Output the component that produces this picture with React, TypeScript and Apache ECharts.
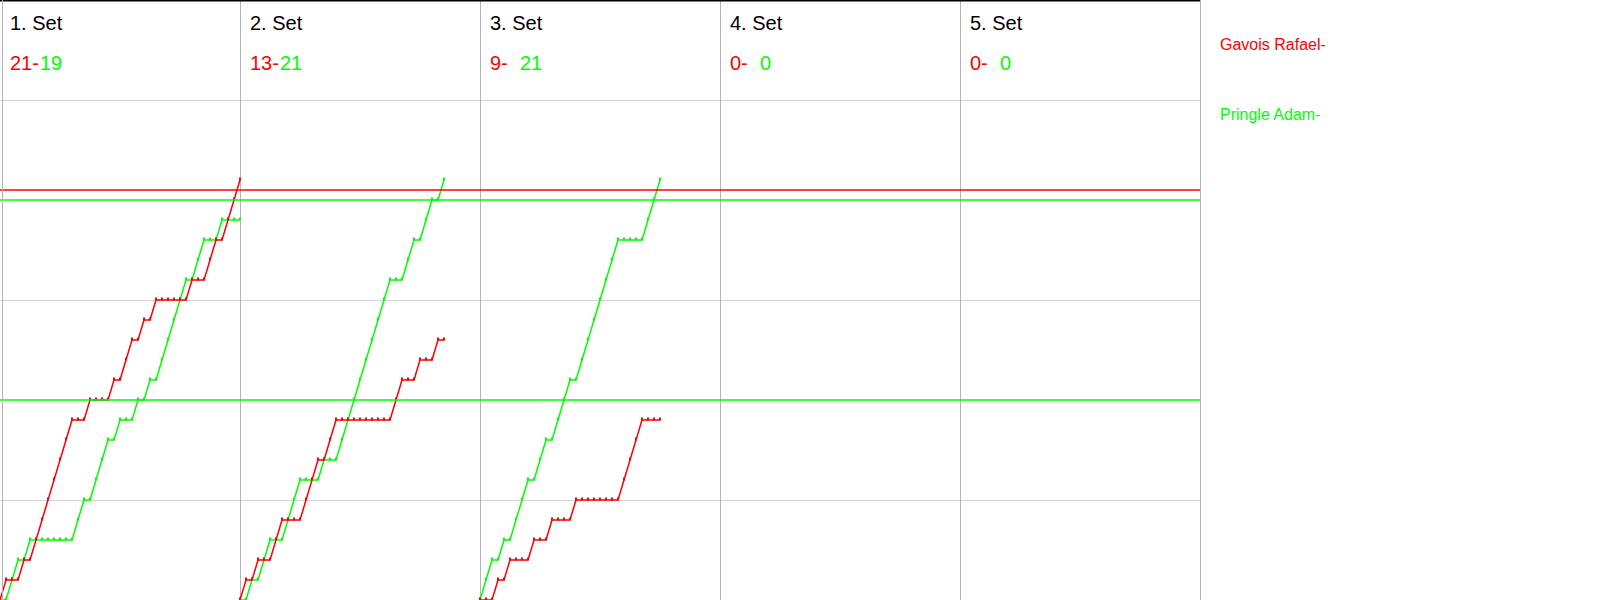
import { useEffect, useRef } from "react";
import * as echarts from "echarts";

// ---- data ----
const setLabels = ["1. Set", "2. Set", "3. Set", "4. Set", "5. Set"];
const playerNames = ["Gavois Rafael-", "Pringle Adam-"];
const redSetScores = ["21", "13", "9", "0", "0"];
const greenSetScores = ["19", "21", "21", "0", "0"];
// winner of each rally, per set (R = Gavois Rafael, G = Pringle Adam)
const set1Rallies = "RGGRGRRRRRRRGGRGGGRGRRGRGRGGGGGRGGRRGRRR".split("");
const set2Rallies = "RGRGGRRGGGRRRGRRGGGGGGGGGRRGGRGGRG".split("");
const set3Rallies = "GGRGRGGGRGGRGGGRGGGGGGGRRRRGGG".split("");
const set4Rallies: string[] = [];
const set5Rallies: string[] = [];
const redRefLines = [20.5];
const greenRefLines = [20, 10];
const ralliesPerSet = 40;
const setCount = 5;

const RED = "#ff0000";
const GREEN = "#00ff00";
const FONT = '"Liberation Sans", Arial, sans-serif';

const allSets = [set1Rallies, set2Rallies, set3Rallies, set4Rallies, set5Rallies];

function progression(rallies: string[], player: string, setIndex: number) {
  const x0 = setIndex * ralliesPerSet;
  const pts: number[][] = [[x0, 0]];
  let s = 0;
  rallies.forEach((w, i) => {
    if (w === player) s += 1;
    pts.push([x0 + i + 1, s]);
  });
  return pts;
}

function buildOption() {
  const series: any[] = [];
  allSets.forEach((rallies, k) => {
    if (!rallies.length) return;
    [
      { p: "R", color: RED, name: playerNames[0], refs: redRefLines },
      { p: "G", color: GREEN, name: playerNames[1], refs: greenRefLines },
    ].forEach(({ p, color, name, refs }) => {
      const s: any = {
        type: "line",
        name,
        data: progression(rallies, p, k),
        showSymbol: true,
        symbol: "rect",
        symbolSize: [2, 3],
        symbolOffset: [0, -1],
        itemStyle: { color },
        lineStyle: { color, width: 1.5 },
        silent: true,
        z: p === "R" ? 4 : 3,
      };
      if (k === 0) {
        s.markLine = {
          silent: true,
          symbol: "none",
          animation: false,
          label: { show: false },
          lineStyle: { color, width: 1.5, type: "solid" },
          emphasis: { disabled: true },
          data: refs.map((v) => ({ yAxis: v })),
        };
      }
      series.push(s);
    });
  });

  const graphic: any[] = [];
  for (let k = 0; k < setCount; k++) {
    const cx = k * 240;
    graphic.push({
      type: "text",
      x: cx + 10,
      y: 22.5,
      style: { text: setLabels[k], fontSize: 20, fontFamily: FONT, fill: "#000", align: "left", verticalAlign: "middle" },
    });
    graphic.push({
      type: "text",
      x: cx + 10,
      y: 62.5,
      style: { text: redSetScores[k] + "-", fontSize: 20, fontFamily: FONT, fill: RED, align: "left", verticalAlign: "middle" },
    });
    graphic.push({
      type: "text",
      x: cx + 40,
      y: 62.5,
      style: { text: greenSetScores[k], fontSize: 20, fontFamily: FONT, fill: GREEN, align: "left", verticalAlign: "middle" },
    });
  }
  graphic.push({
    type: "text",
    x: 1220,
    y: 44,
    style: { text: playerNames[0], fontSize: 16, fontFamily: FONT, fill: RED, align: "left", verticalAlign: "middle" },
  });
  graphic.push({
    type: "text",
    x: 1220,
    y: 114,
    style: { text: playerNames[1], fontSize: 16, fontFamily: FONT, fill: GREEN, align: "left", verticalAlign: "middle" },
  });
  // frame: top black border and left border
  graphic.push({
    type: "line",
    shape: { x1: 0, y1: 0.75, x2: 1200, y2: 0.75 },
    style: { stroke: "#000", lineWidth: 1.5 },
    z: 10,
  });
  graphic.push({
    type: "line",
    shape: { x1: 2.5, y1: 0, x2: 2.5, y2: 600 },
    style: { stroke: "#b4b4b4", lineWidth: 1 },
    z: 10,
  });

  return {
    animation: false,
    backgroundColor: "#ffffff",
    grid: { left: 0, right: 400, top: 0, bottom: 0 },
    xAxis: {
      type: "value",
      min: 0,
      max: ralliesPerSet * setCount,
      interval: ralliesPerSet,
      axisLine: { show: true, lineStyle: { color: "#b4b4b4", width: 1 } },
      axisTick: { show: false },
      axisLabel: { show: false },
      splitLine: { show: true, showMinLine: false, lineStyle: { color: "#b4b4b4", width: 1 } },
    },
    yAxis: {
      type: "value",
      min: 0,
      max: 30,
      interval: 5,
      axisLine: { show: false },
      axisTick: { show: false },
      axisLabel: { show: false },
      splitLine: { show: true, lineStyle: { color: ["rgba(0,0,0,0)", "#d3d3d3"], width: 1 } },
    },
    series,
    graphic,
  };
}

export default function App() {
  const ref = useRef<HTMLDivElement>(null);
  useEffect(() => {
    if (!ref.current) return;
    const chart = echarts.init(ref.current, undefined, { renderer: "svg" });
    chart.setOption(buildOption() as any);
    return () => chart.dispose();
  }, []);
  return (
    <div
      ref={ref}
      style={{ position: "fixed", left: 0, top: 0, width: 1600, height: 600, background: "#fff" }}
    />
  );
}
